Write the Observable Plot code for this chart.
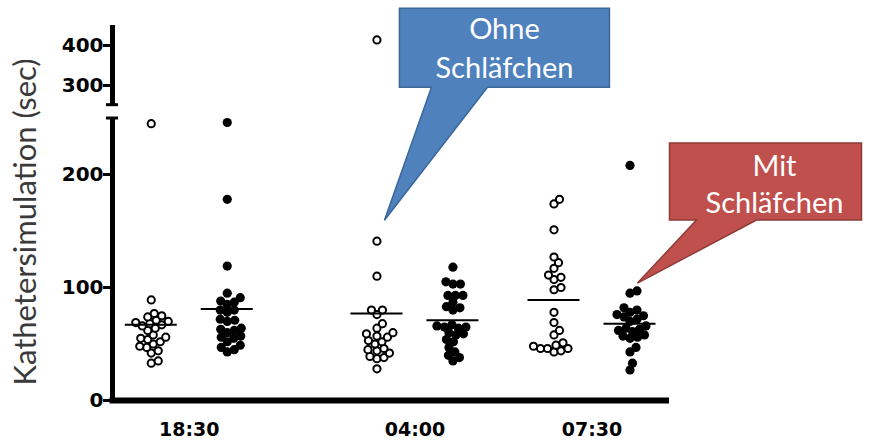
<!DOCTYPE html>
<html><head><meta charset="utf-8">
<script src="https://cdn.jsdelivr.net/npm/d3@7"></script>
<script src="https://cdn.jsdelivr.net/npm/@observablehq/plot@0.6"></script>
<style>body{margin:0;background:#fff}</style>
</head><body><div id="chart"></div>
<script>
// ---- data ----
const times = ["18:30", "04:00", "07:30"];
const groups = ["Ohne Schläfchen", "Mit Schläfchen"];
const ohne1830 = [245, 89, 77, 75, 74, 71, 70, 69, 68, 67, 66, 64, 62, 58, 56, 55, 54, 52, 50, 48, 47, 44, 42, 35, 33];
const mit1830  = [246, 178, 119, 95, 91, 88, 87, 85, 80, 80, 78, 72, 71, 70, 64, 63, 62, 60, 57, 56, 55, 52, 49, 47, 45, 43];
const ohne0400 = [414, 141, 110, 80, 80, 76, 68, 64, 60, 59, 57, 56, 53, 52, 50, 46, 45, 44, 42, 39, 38, 37, 28];
const mit0400  = [118, 105, 103, 103, 93, 93, 93, 87, 83, 82, 80, 67, 66, 65, 65, 64, 60, 59, 58, 54, 52, 47, 43, 40, 38, 35];
const ohne0730 = [178, 174, 151, 127, 122, 117, 111, 109, 107, 100, 98, 78, 69, 62, 58, 51, 49, 48, 46, 46, 46, 44, 43];
const mit0730  = [208, 97, 95, 82, 80, 78, 76, 75, 74, 72, 70, 66, 64, 63, 62, 61, 58, 57, 56, 55, 47, 43, 33, 27];
const meansOhne = [67, 77, 89];
const meansMit  = [81, 71, 68];
const yTicks = [0, 100, 200, 300, 400];
const yTitle = "Kathetersimulation (sec)";
const calloutOhne = ["Ohne", "Schläfchen"];
const calloutMit = ["Mit", "Schläfchen"];

// ---- layout ----
const W = 871, H = 444;
const xDomain = [-0.51, 6.82], xRange = [112, 669];
const yDomain = [0, 250, 252, 450], yRange = [400, 117.5, 104.2, 25];
const groupPos = [0.5, 3.47, 5.8];
const colOff = 0.5;
const xS = d3.scaleLinear(xDomain, xRange);
const yS = d3.scaleLinear().domain(yDomain).range(yRange);
const pxPerUnit = (xRange[1] - xRange[0]) / (xDomain[1] - xDomain[0]);

const seriesOhne = [ohne1830, ohne0400, ohne0730];
const seriesMit = [mit1830, mit0400, mit0730];

function swarm(values, center, D) {
  const placed = [], out = [];
  const sorted = values.slice().sort((a, b) => a - b);
  for (const v of sorted) {
    const py = yS(v);
    let best = null;
    for (let k = 0; k < 200 && best === null; k++) {
      for (const s of (k === 0 ? [0] : [k, -k])) {
        const px = s * 0.5;
        if (placed.every(p => Math.hypot(p.px - px, p.py - py) >= D)) { best = px; break; }
      }
    }
    placed.push({px: best, py});
    out.push({value: v, x: center + best / pxPerUnit});
  }
  return out;
}

const rowsOhne = [], rowsMit = [], meanRows = [];
times.forEach((t, i) => {
  swarm(seriesOhne[i], groupPos[i] - colOff, 7).forEach(d => rowsOhne.push({...d, time: t, group: groups[0]}));
  swarm(seriesMit[i], groupPos[i] + colOff, 7.2).forEach(d => rowsMit.push({...d, time: t, group: groups[1]}));
  meanRows.push({x: groupPos[i] - colOff, value: meansOhne[i]});
  meanRows.push({x: groupPos[i] + colOff, value: meansMit[i]});
});
const xLabels = times.map((t, i) => ({t, x: groupPos[i]}));
const x0 = xDomain[0];
const halfLine = 26 / pxPerUnit;

const chart = Plot.plot({
  width: W, height: H,
  marginLeft: xRange[0], marginRight: W - xRange[1], marginTop: 25, marginBottom: 44,
  x: {domain: xDomain, range: xRange, axis: null},
  y: {type: "linear", domain: yDomain, range: yRange, axis: null},
  style: {background: "#fff"},
  marks: [
    // axis segments
    Plot.ruleX([x0], {y1: yDomain[0], y2: yDomain[1], stroke: "#000", strokeWidth: 5}),
    Plot.ruleX([x0], {y1: yDomain[2], y2: yDomain[3], stroke: "#000", strokeWidth: 5}),
    Plot.ruleY([yDomain[1], yDomain[2]], {x1: x0 - 6 / pxPerUnit, x2: x0 + 6 / pxPerUnit, stroke: "#000", strokeWidth: 3}),
    Plot.ruleY([0], {x1: x0 - 2.5 / pxPerUnit, x2: xDomain[1], stroke: "#000", strokeWidth: 6}),
    Plot.ruleY(yTicks, {x1: x0 - 9 / pxPerUnit, x2: x0, stroke: "#000", strokeWidth: 3}),
    Plot.text(yTicks, {x: x0, y: d => d, dx: -9, textAnchor: "end", fontFamily: "DejaVu Sans", fontWeight: "bold", fontSize: 20, fill: "#000"}),
    Plot.text(xLabels, {x: "x", y: 0, text: "t", dy: 29, fontFamily: "DejaVu Sans", fontWeight: "bold", fontSize: 19, fill: "#000"}),
    Plot.text([yTitle], {x: x0, y: 158, dx: -86, rotate: -90, fontFamily: "Lato", fontSize: 31, fill: "#3a3a3a"}),
    // dots
    Plot.dot(rowsOhne, {x: "x", y: "value", r: 3.6, fill: "#fff", stroke: "#000", strokeWidth: 2}),
    Plot.dot(rowsMit, {x: "x", y: "value", r: 4.6, fill: "#000", stroke: "none"}),
    Plot.ruleY(meanRows, {y: "value", x1: d => d.x - halfLine, x2: d => d.x + halfLine, stroke: "#000", strokeWidth: 2})
  ]
});
document.getElementById("chart").appendChild(chart);

// ---- callouts anchored to data ----
const sx = chart.scale("x"), sy = chart.scale("y");
function callout(lines, tipX, tipV, dxTip, box, base, textX, baselines, fill, stroke) {
  const tx = sx.apply(tipX) + dxTip, ty = sy.apply(tipV);
  const [x0b, y0b, x1b, y1b] = box;
  const g = d3.select(chart).append("g").attr("transform", `translate(${tx},${ty})`);
  g.append("path")
    .attr("d", `M${x0b},${y0b}H${x1b}V${y1b}H${base[1]}L0,0L${base[0]},${y1b}H${x0b}Z`)
    .attr("fill", fill).attr("stroke", stroke).attr("stroke-width", 1.5);
  lines.forEach((l, i) => {
    g.append("text").attr("x", textX).attr("y", baselines[i]).attr("text-anchor", "middle")
      .attr("font-family", "Lato").attr("font-size", 29).attr("fill", "#fff").text(l);
  });
}
callout(calloutOhne, groupPos[1] - colOff, 159, 8, [15, -212, 225, -133], [47, 103], 120, [-181, -142], "#4F81BD", "#3A679C");
callout(calloutMit, groupPos[2] + colOff, 103.5, 8, [32, -140, 224, -63], [59, 119], 137, [-107, -70], "#C0504D", "#8E3A37");
</script>
</body></html>
